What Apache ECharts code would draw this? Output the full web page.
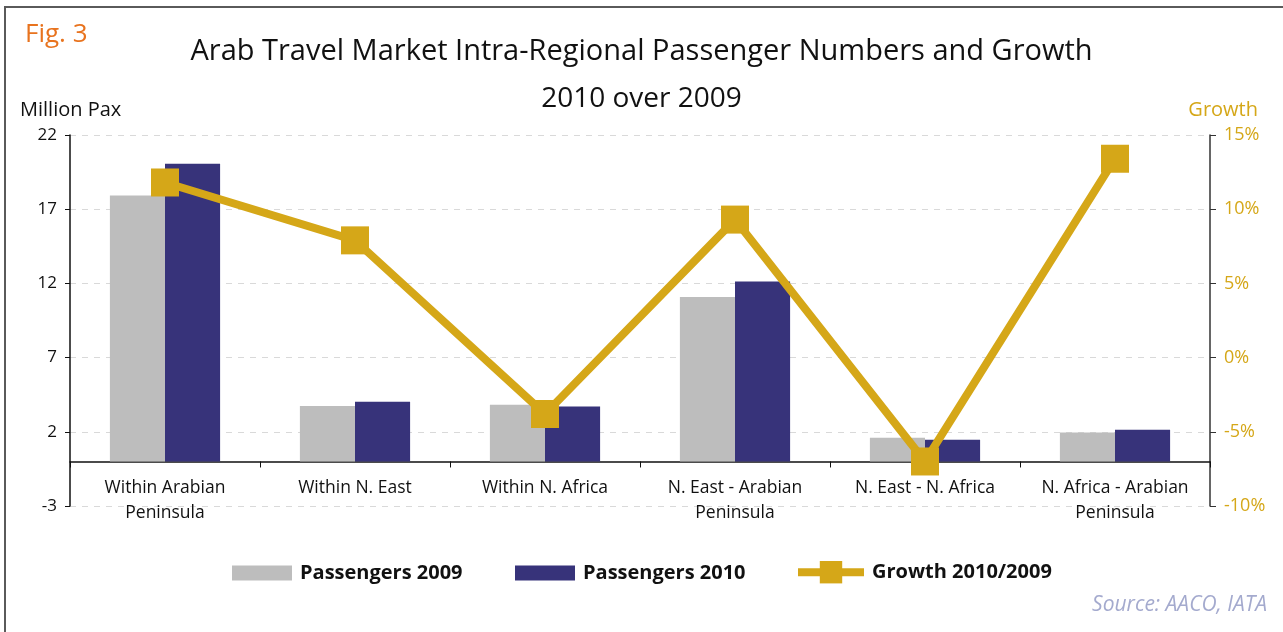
<!DOCTYPE html>
<html>
<head>
<meta charset="utf-8">
<title>Arab Travel Market Intra-Regional Passenger Numbers and Growth</title>
<script src="https://cdn.jsdelivr.net/npm/echarts@6/dist/echarts.min.js"></script>
<style>
  html, body { margin: 0; padding: 0; background: #ffffff; }
  #chart { width: 1283px; height: 632px; }
</style>
</head>
<body>
<div id="chart"></div>
<script>
// Route categories (line breaks as shown under the axis)
const categories = [
  'Within Arabian\nPeninsula',
  'Within N. East',
  'Within N. Africa',
  'N. East - Arabian\nPeninsula',
  'N. East - N. Africa',
  'N. Africa - Arabian\nPeninsula'
];

// Passengers, million
const passengers2009 = [17.93, 3.74, 3.83, 11.08, 1.60, 1.96];
const passengers2010 = [20.07, 4.03, 3.70, 12.12, 1.47, 2.14];

// Growth 2010 over 2009, percent
const growth = [11.8, 7.9, -3.8, 9.3, -7.0, 13.4];

// Series names
const seriesNames = ['Passengers 2009', 'Passengers 2010', 'Growth 2010/2009'];

const FONT = '"Open Sans", Lato, "DejaVu Sans", sans-serif';
const GOLD = '#D5A718';
const NAVY = '#37337A';
const GREY = '#BDBDBD';
const INK = '#111111';

const legendText = { fontFamily: FONT, fontSize: 20, fontWeight: 'bold', color: INK, padding: [0, 0, 0, 3] };

const chart = echarts.init(document.getElementById('chart'), null, { renderer: 'canvas' });

chart.setOption({
  backgroundColor: '#ffffff',
  animation: false,
  textStyle: { fontFamily: FONT },
  title: [
    {
      text: 'Arab Travel Market Intra-Regional Passenger Numbers and Growth',
      left: 'center',
      top: 37,
      padding: 0,
      textStyle: { fontFamily: FONT, fontSize: 29, fontWeight: 'normal', color: INK }
    },
    {
      text: '2010 over 2009',
      left: 'center',
      top: 85,
      padding: 0,
      textStyle: { fontFamily: FONT, fontSize: 28, fontWeight: 'normal', color: INK }
    }
  ],
  graphic: [
    {
      type: 'rect',
      shape: { x: 5, y: 7, width: 1400, height: 800 },
      style: { fill: 'none', stroke: '#5a5a5a', lineWidth: 2 },
      silent: true
    },
    {
      type: 'text',
      left: 25, top: 22,
      style: { text: 'Fig. 3', fill: '#E8731E', font: '26px ' + FONT }
    },
    {
      type: 'text',
      left: 20, top: 100,
      style: { text: 'Million Pax', fill: INK, font: '20px ' + FONT }
    },
    {
      type: 'text',
      right: 25, top: 100,
      style: { text: 'Growth', fill: GOLD, font: '20px ' + FONT }
    },
    {
      type: 'text',
      right: 16, top: 595,
      style: { text: 'Source: AACO, IATA', fill: '#A4AACE', font: 'italic 21px ' + FONT }
    }
  ],
  legend: [
    {
      data: [seriesNames[0]],
      left: 232, top: 563, padding: 0,
      icon: 'rect',
      itemWidth: 60, itemHeight: 15,
      textStyle: legendText
    },
    {
      data: [seriesNames[1]],
      left: 515, top: 563, padding: 0,
      icon: 'rect',
      itemWidth: 60, itemHeight: 15,
      textStyle: legendText
    },
    {
      data: [seriesNames[2]],
      left: 794, top: 561, padding: 0,
      itemWidth: 66, itemHeight: 28,
      lineStyle: { width: 8 },
      textStyle: legendText
    }
  ],
  grid: {
    left: 70,
    right: 73,
    top: 135,
    bottom: 126,
    containLabel: false
  },
  xAxis: {
    type: 'category',
    data: categories,
    boundaryGap: true,
    axisLine: {
      onZero: true,
      onZeroAxisIndex: 0,
      lineStyle: { color: INK, width: 1.5 }
    },
    axisTick: {
      show: true,
      length: 6,
      lineStyle: { color: INK, width: 1 }
    },
    axisLabel: {
      interval: 0,
      margin: -30,
      fontFamily: FONT,
      fontSize: 17.5,
      lineHeight: 25,
      color: INK
    }
  },
  yAxis: [
    {
      type: 'value',
      min: -3,
      max: 22,
      interval: 5,
      axisLine: { show: true, lineStyle: { color: INK, width: 1.5 } },
      axisTick: { show: true, length: 5, lineStyle: { color: INK } },
      axisLabel: { margin: 13, fontFamily: FONT, fontSize: 17, color: INK },
      splitLine: { show: true, lineStyle: { color: '#D9D9D9', type: [6, 6], width: 1 } }
    },
    {
      type: 'value',
      min: -10,
      max: 15,
      interval: 5,
      position: 'right',
      axisLine: { show: true, lineStyle: { color: '#333333', width: 1.5 } },
      axisTick: { show: true, length: 6, lineStyle: { color: '#333333' } },
      axisLabel: { margin: 14, formatter: '{value}%', fontFamily: FONT, fontSize: 18, color: GOLD },
      splitLine: { show: false }
    }
  ],
  series: [
    {
      name: seriesNames[0],
      type: 'bar',
      yAxisIndex: 0,
      data: passengers2009,
      barGap: '0%',
      barCategoryGap: '42%',
      itemStyle: { color: GREY },
      z: 2
    },
    {
      name: seriesNames[1],
      type: 'bar',
      yAxisIndex: 0,
      data: passengers2010,
      barGap: '0%',
      barCategoryGap: '42%',
      itemStyle: { color: NAVY },
      z: 2
    },
    {
      name: seriesNames[2],
      type: 'line',
      yAxisIndex: 1,
      data: growth,
      symbol: 'rect',
      symbolSize: 28,
      showAllSymbol: true,
      lineStyle: { color: GOLD, width: 8 },
      itemStyle: { color: GOLD },
      z: 5
    }
  ]
});
</script>
</body>
</html>
